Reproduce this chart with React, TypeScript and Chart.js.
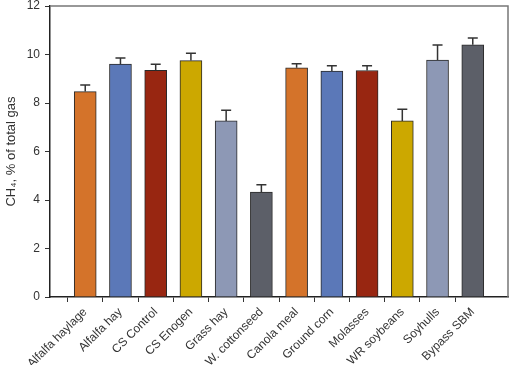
import React, { useEffect, useRef } from "react";
import { Chart, registerables } from "chart.js";

Chart.register(...registerables);

const categories = [
  "Alfalfa haylage",
  "Alfalfa hay",
  "CS Control",
  "CS Enogen",
  "Grass hay",
  "W. cottonseed",
  "Canola meal",
  "Ground corn",
  "Molasses",
  "WR soybeans",
  "Soyhulls",
  "Bypass SBM",
];
const means = [8.47, 9.6, 9.35, 9.75, 7.26, 4.33, 9.45, 9.32, 9.34, 7.26, 9.77, 10.4];
const errors = [0.27, 0.26, 0.25, 0.3, 0.44, 0.3, 0.17, 0.22, 0.2, 0.48, 0.62, 0.28];
const colors = [
  "#D4732A", "#5B78B8", "#982611", "#CCA800", "#8D98B5", "#5C5F68",
  "#D4732A", "#5B78B8", "#982611", "#CCA800", "#8D98B5", "#5C5F68",
];
const yTicks = [0, 2, 4, 6, 8, 10, 12];

const FONT = "'Liberation Sans', Arial, sans-serif";

export default function App() {
  const ref = useRef<HTMLCanvasElement | null>(null);
  useEffect(() => {
    if (!ref.current) return;
    const labels = ["", ...categories, ""];
    const data = [null, ...means, null];
    const errs = [null, ...errors, null];
    const bg = ["transparent", ...colors, "transparent"];

    const errorPlugin = {
      id: "errbars",
      afterDatasetsDraw(chart: any) {
        const ctx = chart.ctx;
        const meta = chart.getDatasetMeta(0);
        const ys = chart.scales.y;
        ctx.save();
        ctx.strokeStyle = "#333";
        ctx.lineWidth = 1.5;
        meta.data.forEach((bar: any, i: number) => {
          const v = data[i];
          const e = errs[i];
          if (v == null || e == null) return;
          const x = bar.x;
          const y0 = ys.getPixelForValue(v);
          const y1 = ys.getPixelForValue(v + e);
          ctx.beginPath();
          ctx.moveTo(x, y0);
          ctx.lineTo(x, y1);
          ctx.moveTo(x - 5, y1);
          ctx.lineTo(x + 5, y1);
          ctx.stroke();
        });
        ctx.restore();
      },
      afterDraw(chart: any) {
        const { ctx, chartArea } = chart;
        ctx.save();
        ctx.strokeStyle = "#777";
        ctx.lineWidth = 1.5;
        ctx.beginPath();
        ctx.moveTo(chartArea.left, chartArea.top);
        ctx.lineTo(chartArea.right, chartArea.top);
        ctx.lineTo(chartArea.right, chartArea.bottom);
        ctx.stroke();
        ctx.restore();
      },
    };

    const chart = new Chart(ref.current, {
      type: "bar",
      data: {
        labels,
        datasets: [
          {
            data,
            backgroundColor: bg,
            borderColor: "#2a2a2a",
            borderWidth: 1,
            barThickness: 22,
          } as any,
        ],
      },
      options: {
        animation: false,
        responsive: false,
        maintainAspectRatio: false,
        layout: { padding: { top: 6, right: 2, left: 0, bottom: 0 } },
        plugins: { legend: { display: false }, tooltip: { enabled: false } },
        scales: {
          x: {
            offset: false,
            grid: {
              drawOnChartArea: false,
              tickLength: 5,
              tickColor: (c: any) =>
                c.index === 0 || c.index === labels.length - 1 ? "transparent" : "#333",
            },
            border: { color: "#222", width: 1.5 },
            ticks: {
              autoSkip: false,
              maxRotation: 45,
              minRotation: 45,
              color: "#333",
              padding: 3,
              font: { family: FONT, size: 12 },
            },
            afterFit: (s: any) => {
              s.height = 68;
              s.paddingLeft = 0;
              s.paddingRight = 0;
            },
          },
          y: {
            min: 0,
            max: 12,
            afterBuildTicks: (s: any) => {
              s.ticks = yTicks.map((v) => ({ value: v }));
            },
            grid: { drawOnChartArea: false, tickLength: 5, color: "#333" },
            border: { color: "#222", width: 1.5 },
            ticks: {
              color: "#333",
              padding: 5,
              font: { family: FONT, size: 12 },
            },
            title: {
              display: true,
              text: "CH\u2084, % of total gas",
              color: "#333",
              font: { family: FONT, size: 13 },
              padding: { top: 4, bottom: 2 },
            },
            afterFit: (s: any) => {
              s.width = 50;
              s.paddingTop = 0;
              s.paddingBottom = 0;
            },
          },
        },
      },
      plugins: [errorPlugin],
    });
    return () => chart.destroy();
  }, []);

  return (
    <div style={{ position: "fixed", left: 0, top: 0, width: 510, height: 365, background: "#fff" }}>
      <canvas ref={ref} width={510} height={365} style={{ width: 510, height: 365 }} />
    </div>
  );
}
